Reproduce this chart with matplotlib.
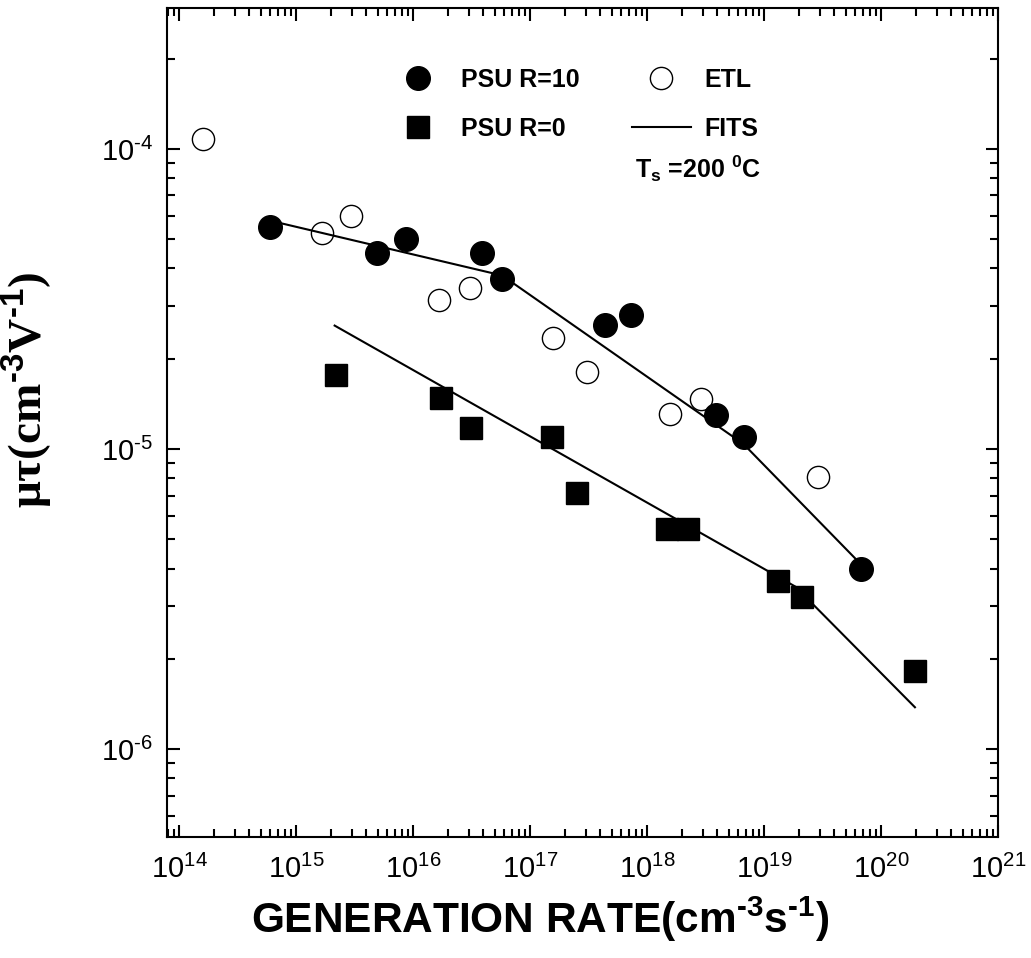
import matplotlib
matplotlib.use("Agg")
import matplotlib.pyplot as plt
import numpy as np
from matplotlib.ticker import LogLocator, NullFormatter, FuncFormatter, FixedLocator

plt.rcParams['font.family'] = ['Liberation Sans', 'DejaVu Sans']
plt.rcParams['mathtext.fontset'] = 'custom'
plt.rcParams['mathtext.rm'] = 'Liberation Sans'
plt.rcParams['mathtext.bf'] = 'Liberation Sans:bold'
plt.rcParams['mathtext.it'] = 'Liberation Sans:italic'
plt.rcParams['axes.unicode_minus'] = False

# ---- data ----
psu10_x = [5.97e14, 4.9e15, 8.7e15, 3.88e16, 5.8e16, 4.37e17, 7.3e17, 3.88e18, 6.8e18, 6.8e19]
psu10_y = [5.5e-5, 4.5e-5, 5.0e-5, 4.5e-5, 3.7e-5, 2.6e-5, 2.8e-5, 1.3e-5, 1.1e-5, 4.0e-6]

etl_x = [1.61e14, 1.68e15, 2.93e15, 1.68e16, 3.07e16, 1.58e17, 3.07e17, 1.58e18, 2.91e18, 2.9e19]
etl_y = [1.08e-4, 5.26e-5, 5.97e-5, 3.13e-5, 3.43e-5, 2.35e-5, 1.81e-5, 1.31e-5, 1.47e-5, 8.07e-6]

psu0_x = [2.18e15, 1.75e16, 3.15e16, 1.55e17, 2.54e17, 1.47e18, 2.24e18, 1.33e19, 2.13e19, 1.95e20]
psu0_y = [1.76e-5, 1.48e-5, 1.18e-5, 1.1e-5, 7.13e-6, 5.41e-6, 5.41e-6, 3.64e-6, 3.22e-6, 1.82e-6]

fit10_x = [7.41e14, 5.78e16, 6.68e18, 6.03e19]
fit10_y = [5.66e-5, 3.79e-5, 1.04e-5, 4.32e-6]

fit0_x = [2.14e15, 1.86e19, 1.95e20]
fit0_y = [2.58e-5, 3.48e-6, 1.38e-6]

x_major = [1e14, 1e15, 1e16, 1e17, 1e18, 1e19, 1e20, 1e21]
y_major = [1e-6, 1e-5, 1e-4]

labels = ['PSU R=10', 'PSU R=0', 'ETL', 'FITS']

HY = '\u2010'  # short hyphen (instead of math minus)


def pow_fmt(v, pos):
    e = int(round(np.log10(v)))
    s = str(e).replace('-', HY)
    return '$\\mathdefault{10^{' + s + '}}$'


fig = plt.figure(figsize=(10.31, 9.58), dpi=100)
ax = fig.add_axes([167/1031, 1-837/958, (998-167)/1031, (837-8)/958])

l_fit, = ax.plot(fit10_x, fit10_y, '-', color='black', lw=1.5, zorder=2)
ax.plot(fit0_x, fit0_y, '-', color='black', lw=1.5, zorder=2)
l_etl, = ax.plot(etl_x, etl_y, 'o', ms=16, mfc='none', mec='black', mew=1.0, ls='none', zorder=3)
l_10, = ax.plot(psu10_x, psu10_y, 'o', ms=17, color='black', ls='none', zorder=4)
l_0, = ax.plot(psu0_x, psu0_y, 's', ms=15.5, color='black', ls='none', zorder=4)

ax.set_xscale('log')
ax.set_yscale('log')
ax.set_xlim(7.9e13, 1e21)
ax.set_ylim(5.1e-7, 2.95e-4)

ax.xaxis.set_major_locator(FixedLocator(x_major))
ax.yaxis.set_major_locator(FixedLocator(y_major))
for axis in (ax.xaxis, ax.yaxis):
    axis.set_minor_locator(LogLocator(base=10, subs=[2, 3, 4, 5, 6, 7, 8, 9], numticks=20))
    axis.set_minor_formatter(NullFormatter())
    axis.set_major_formatter(FuncFormatter(pow_fmt))

ax.tick_params(which='both', direction='in', top=True, right=True, width=1.5)
ax.tick_params(which='major', length=9, labelsize=21, pad=10)
ax.tick_params(axis='x', which='major', pad=13)
ax.tick_params(which='minor', length=5.5)
for s in ax.spines.values():
    s.set_linewidth(1.5)

ax.set_xlabel('GENERATION RATE(cm$^{\\mathbf{' + HY + '3}}$s$^{\\mathbf{' + HY + '1}}$)',
              fontsize=30.5, fontweight='bold')
ax.xaxis.set_label_coords(0.449, -0.07)

ax.set_ylabel('\u03bc\u03c4(cm$^{\\mathbf{' + HY + '3}}$V$^{\\mathbf{' + HY + '1}}$)', fontsize=34,
              fontweight='bold', family='Liberation Serif')
ax.yaxis.set_label_coords(-0.135, 0.539)

leg = ax.legend([l_10, l_0, l_etl, l_fit], labels, ncol=2, frameon=False,
                loc='upper left', bbox_to_anchor=(0.266, 0.9274), borderpad=0,
                borderaxespad=0, handlelength=2.36, handletextpad=0.56,
                columnspacing=2.08, labelspacing=0.98,
                prop={'family': 'Liberation Sans', 'weight': 'bold', 'size': 18})

ax.text(0.563, 0.795, 'T$_{\\mathbf{s}}$ =200 $^{\\mathbf{0}}$C', transform=ax.transAxes,
        fontsize=18, fontweight='bold', ha='left', va='baseline')

fig.savefig('out.png', dpi=100)
